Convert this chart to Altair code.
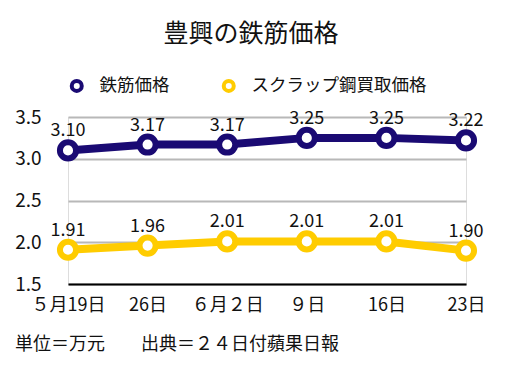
import altair as alt
import pandas as pd

dates = ["５月19日", "26日", "６月２日", "９日", "16日", "23日"]
rebar = [3.10, 3.17, 3.17, 3.25, 3.25, 3.22]
scrap = [1.91, 1.96, 2.01, 2.01, 2.01, 1.90]
series_names = ["鉄筋価格", "スクラップ鋼買取価格"]
colors = ["#1a0a73", "#ffcc00"]
title_text = "豊興の鉄筋価格"
note_text = "単位＝万元　　出典＝２４日付蘋果日報"

rows = []
for d, v in zip(dates, rebar):
    rows.append({"date": d, "series": series_names[0], "value": v})
for d, v in zip(dates, scrap):
    rows.append({"date": d, "series": series_names[1], "value": v})
df = pd.DataFrame(rows)

FONT = "Noto Sans CJK JP"

x = alt.X("date:N", sort=dates, title=None,
          scale=alt.Scale(type="point", padding=0),
          axis=alt.Axis(labelAngle=0, labelFontSize=18, labelFont=FONT, labelColor="#111",
                        labelPadding=12, ticks=False, domain=True, domainColor="#000",
                        domainWidth=2, grid=False, zindex=1))
y = alt.Y("value:Q", title=None,
          scale=alt.Scale(domain=[1.5, 3.5], nice=False, zero=False),
          axis=alt.Axis(values=[1.5, 2.0, 2.5, 3.0, 3.5], format=".1f", labelFontSize=19,
                        labelFont=FONT, labelColor="#111", labelPadding=27, ticks=False,
                        domain=False, grid=True, gridColor="#b8b8b8", gridWidth=2))
color = alt.Color("series:N", sort=series_names,
                  scale=alt.Scale(domain=series_names, range=colors),
                  legend=alt.Legend(title=None, orient="none", direction="horizontal",
                                    legendX=0, legendY=-40, symbolType="circle",
                                    symbolFillColor="white", symbolStrokeWidth=4,
                                    symbolSize=100, labelFontSize=17.5, labelFont=FONT,
                                    labelColor="#111", labelOffset=14, columnPadding=45,
                                    labelLimit=400, symbolOpacity=1))

base = alt.Chart(df).encode(x=x, y=y, color=color)

line = base.mark_line(strokeWidth=8)
pts = base.mark_point(filled=False, fill="white", strokeWidth=6, size=260, opacity=1,
                      shape="circle")
labels = base.mark_text(dy=-14, baseline="alphabetic", fontSize=18, font=FONT,
                        color="#111").encode(text=alt.Text("value:Q", format=".2f"),
                                             color=alt.value("#111"))

title = alt.Chart(pd.DataFrame({"t": [title_text]})).mark_text(
    align="center", baseline="middle", fontSize=25, font=FONT, color="#111"
).encode(x=alt.value(183), y=alt.value(-83), text="t:N")

note = alt.Chart(pd.DataFrame({"t": [note_text]})).mark_text(
    align="left", baseline="middle", fontSize=18, font=FONT, color="#111"
).encode(x=alt.value(-53), y=alt.value(228), text="t:N")

chart = alt.layer(line, pts, labels, title, note).properties(
    width=398, height=167,
    padding={"left": 60, "top": 109, "right": 30, "bottom": 70},
    autosize=alt.AutoSizeParams(type="none"),
).configure_view(stroke=None).configure(background="white")

chart.save("out.html", embed_options={"renderer": "svg", "actions": False})
